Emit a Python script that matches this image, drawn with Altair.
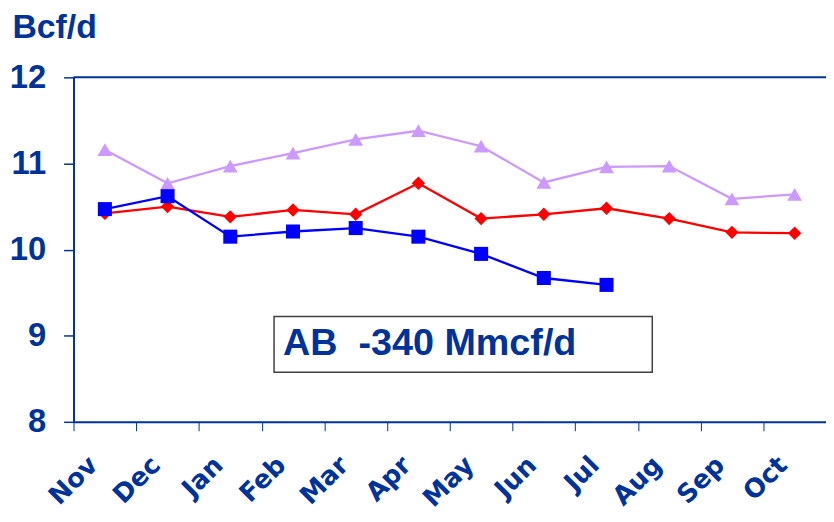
import altair as alt
import pandas as pd

months = ["Nov", "Dec", "Jan", "Feb", "Mar", "Apr", "May", "Jun", "Jul", "Aug", "Sep", "Oct"]
purple_vals = [11.16, 10.77, 10.97, 11.12, 11.28, 11.38, 11.20, 10.78, 10.96, 10.97, 10.59, 10.64]
red_vals = [10.42, 10.50, 10.38, 10.46, 10.41, 10.77, 10.36, 10.41, 10.48, 10.36, 10.20, 10.19]
blue_vals = [10.47, 10.62, 10.15, 10.21, 10.25, 10.15, 9.95, 9.67, 9.59]
y_ticks = [8, 9, 10, 11, 12]
unit_title = "Bcf/d"
annotation = "AB  -340 Mmcf/d"

FONT = "Liberation Sans"
MONTH_FONT = "DejaVu Sans"
NAVY = "#003399"

xscale = alt.Scale(type="band", domain=months, paddingInner=0, paddingOuter=0)
yscale = alt.Scale(domain=[8, 12], nice=False)

xaxis = alt.Axis(
    title=None, tickBand="extent", labelAngle=-45, labelAlign="right", labelBaseline="middle",
    labelFont=MONTH_FONT, labelFontSize=26, labelFontWeight="bold", labelColor=NAVY,
    labelPadding=30, labelOffset=-12, domainColor=NAVY, domainWidth=2, tickColor=NAVY,
    tickSize=9, tickWidth=1, grid=False,
)
yaxis = alt.Axis(
    values=y_ticks, title=unit_title, titleAngle=0, titleAlign="left", titleBaseline="top",
    titleX=-62, titleY=-67, titleFont=FONT, titleFontSize=34, titleFontWeight="bold",
    titleColor=NAVY, labelFont=FONT, labelFontSize=33, labelFontWeight="bold", labelColor=NAVY,
    labelPadding=18, domainColor=NAVY, domainWidth=2, tickColor=NAVY, tickSize=10, tickWidth=1.5,
    grid=False, labelBaseline="middle",
)

X = alt.X("month:N", scale=xscale, axis=xaxis, sort=months)
Y = alt.Y("value:Q", scale=yscale, axis=yaxis)


def series(vals, color, shape, size):
    df = pd.DataFrame({"month": months[: len(vals)], "value": vals})
    line = alt.Chart(df).mark_line(color=color, strokeWidth=2.3).encode(x=X, y=Y)
    pts = alt.Chart(df).mark_point(
        color=color, fill=color, filled=True, shape=shape, size=size, opacity=1
    ).encode(x=X, y=Y)
    return [line, pts]


top_rule = alt.Chart(pd.DataFrame({"value": [12]})).mark_rule(color=NAVY, strokeWidth=2).encode(y=Y)

ann_df = pd.DataFrame({"label": [annotation.replace(" ", "\u00a0")]})
box = alt.Chart(ann_df).mark_rect(fill="white", stroke="#404040", strokeWidth=1.5).encode(
    x=alt.value(202), x2=alt.value(583), y=alt.value(241), y2=alt.value(297)
)
ann_text = alt.Chart(ann_df).mark_text(
    font=FONT, fontSize=38, fontWeight="bold", color=NAVY, align="left", baseline="middle"
).encode(x=alt.value(211), y=alt.value(269), text="label:N")

layers = (
    series(purple_vals, "#CC99FF", "triangle-up", 220)
    + series(red_vals, "#FF0000", "diamond", 180)
    + series(blue_vals, "#0000FF", "square", 200)
)

chart = alt.layer(top_rule, *layers, box, ann_text).properties(
    width=758, height=347, background="white",
    autosize=alt.AutoSizeParams(type="none"),
    padding={"left": 66, "top": 68, "right": 0, "bottom": 92},
).configure_view(stroke=None)

chart.save("out.html", embed_options={"renderer": "svg", "actions": False})
